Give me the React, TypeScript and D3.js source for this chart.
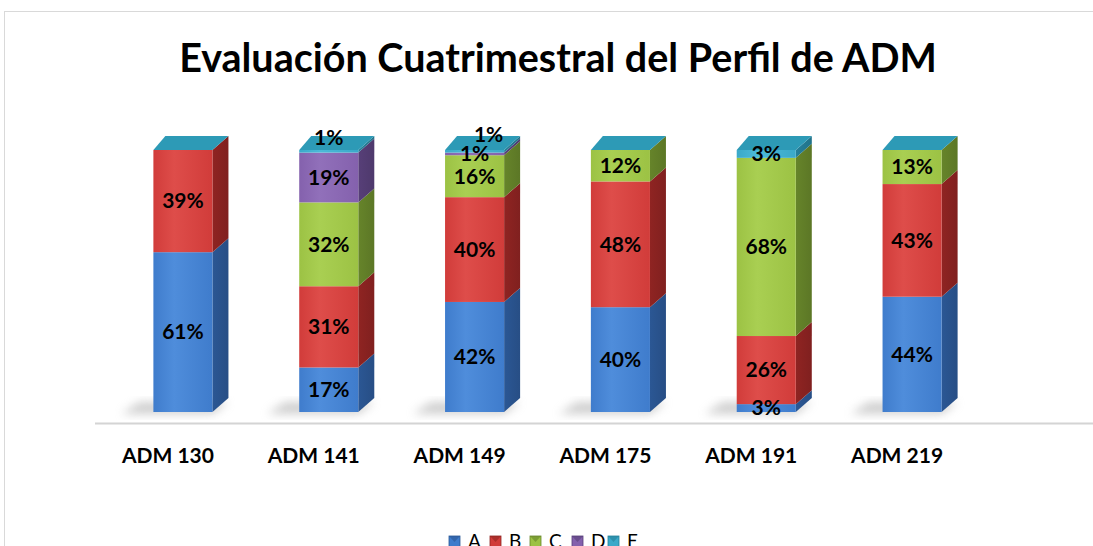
import React, { useRef, useEffect } from "react";
import * as d3 from "d3";

const categories = ["ADM 130", "ADM 141", "ADM 149", "ADM 175", "ADM 191", "ADM 219"];
const seriesNames = ["A", "B", "C", "D", "E"];
const valuesA = [61, 17, 42, 40, 3, 44];
const valuesB = [39, 31, 40, 48, 26, 43];
const valuesC = [0, 32, 16, 12, 68, 13];
const valuesD = [0, 19, 1, 0, 0, 0];
const valuesE = [0, 1, 1, 0, 3, 0];
const title = "Evaluación Cuatrimestral del Perfil de ADM";

// front, side, light
const palette = [
    { front: "#3f7ccc", side: "#2b5794", light: "#4f8ddb" },
    { front: "#d13c3a", side: "#8f2422", light: "#de4d4a" },
    { front: "#9cc244", side: "#66842a", light: "#a9cf52" },
    { front: "#8461ad", side: "#573f78", light: "#9170ba" },
    { front: "#3aa9c9", side: "#25809a", light: "#4cbad8" },
];
const topColor = "#2d9ab6";

const W = 1093;
const H = 546;

const App: React.FC = () => {
    const svgRef = useRef<SVGSVGElement | null>(null);

    useEffect(() => {
        const svg = d3.select(svgRef.current);
        svg.selectAll("*").remove();

        const rows = categories.map((c, i) => ({
            cat: c,
            A: valuesA[i],
            B: valuesB[i],
            C: valuesC[i],
            D: valuesD[i],
            E: valuesE[i],
        }));
        const stacked = d3.stack<any>().keys(seriesNames)(rows);

        const x = d3.scaleBand<string>().domain(categories).range([110, 985]);
        const y = d3.scaleLinear().domain([0, 100]).range([412, 150]);
        const barW = x.bandwidth() * 0.405;
        const dx = 16;
        const dy = 14;
        const left = (c: string) => x(c)! + x.bandwidth() / 2 - barW / 2;

        const defs = svg.append("defs");
        palette.forEach((p, i) => {
            const g = defs
                .append("linearGradient")
                .attr("id", `fr${i}`)
                .attr("x1", 0)
                .attr("x2", 1);
            g.append("stop").attr("offset", 0).attr("stop-color", p.front);
            g.append("stop").attr("offset", 0.35).attr("stop-color", p.light);
            g.append("stop").attr("offset", 1).attr("stop-color", p.front);
            const s = defs
                .append("linearGradient")
                .attr("id", `sd${i}`)
                .attr("x1", 0)
                .attr("x2", 1);
            s.append("stop").attr("offset", 0).attr("stop-color", p.side);
            s.append("stop").attr("offset", 1).attr("stop-color", d3.color(p.side)!.darker(0.3).formatHex());
        });
        defs.append("filter")
            .attr("id", "blur")
            .attr("x", "-50%")
            .attr("y", "-50%")
            .attr("width", "200%")
            .attr("height", "200%")
            .append("feGaussianBlur")
            .attr("stdDeviation", 5);

        // chart border
        svg.append("rect")
            .attr("x", 4.5)
            .attr("y", 11.5)
            .attr("width", W)
            .attr("height", H)
            .attr("fill", "white")
            .attr("stroke", "#d9d9d9");

        svg.append("text")
            .attr("x", 558)
            .attr("y", 72)
            .attr("text-anchor", "middle")
            .style("font", "bold 39.5px Lato, sans-serif")
            .attr("fill", "#000")
            .text(title);

        // floor line
        svg.append("line")
            .attr("x1", 95)
            .attr("x2", W)
            .attr("y1", 423.5)
            .attr("y2", 423.5)
            .attr("stroke", "#d4d4d4")
            .attr("stroke-width", 2);

        // shadows
        svg.append("g")
            .selectAll("path")
            .data(categories)
            .join("path")
            .attr("d", (c) => {
                const l = left(c);
                const b = y(0);
                return `M${l - 32},${b + 2} L${l + barW},${b + 2} L${l + barW + dx},${b - dy + 4} L${l - 14},${b - dy + 4} Z`;
            })
            .attr("fill", "#a0a0a0")
            .attr("opacity", 0.5)
            .attr("filter", "url(#blur)");

        const bars = svg.append("g");
        stacked.forEach((layer, si) => {
            layer.forEach((d, ci) => {
                if (d[1] - d[0] <= 0) return;
                const c = categories[ci];
                const l = left(c);
                const y0 = y(d[0]);
                const y1 = y(d[1]);
                bars.append("path")
                    .attr("d", `M${l + barW},${y0} L${l + barW + dx},${y0 - dy} L${l + barW + dx},${y1 - dy} L${l + barW},${y1} Z`)
                    .attr("fill", `url(#sd${si})`);
                bars.append("rect")
                    .attr("x", l)
                    .attr("y", y1)
                    .attr("width", barW)
                    .attr("height", y0 - y1)
                    .attr("fill", `url(#fr${si})`);
            });
        });

        // top faces
        bars.selectAll("path.top")
            .data(categories)
            .join("path")
            .attr("class", "top")
            .attr("d", (c) => {
                const l = left(c);
                const t = y(100);
                return `M${l},${t} L${l + dx - 4},${t - dy} L${l + barW + dx},${t - dy} L${l + barW},${t} Z`;
            })
            .attr("fill", topColor);

        // data labels
        const labels = svg.append("g")
            .attr("text-anchor", "middle")
            .style("font", "bold 21px Lato, sans-serif")
            .attr("fill", "#000");
        stacked.forEach((layer, si) => {
            layer.forEach((d, ci) => {
                const v = d[1] - d[0];
                if (v <= 0) return;
                const c = categories[ci];
                let cx = left(c) + barW / 2;
                let cy = y((d[0] + d[1]) / 2);
                // tiny top segment: lift it onto the top face, nudge right if the one below is tiny too
                if (si === 4 && v < 2 && d[0] > 97) {
                    cy = y(100) - 12;
                    const below = stacked[3][ci];
                    if (below[1] - below[0] > 0 && below[1] - below[0] < 2) {
                        cx += 14;
                        cy = y(100) - 15;
                    }
                }
                labels.append("text")
                    .attr("x", cx)
                    .attr("y", cy)
                    .attr("dy", "0.35em")
                    .text(`${v}%`);
            });
        });

        // category labels
        svg.append("g")
            .attr("text-anchor", "middle")
            .style("font", "bold 21px Lato, sans-serif")
            .selectAll("text")
            .data(categories)
            .join("text")
            .attr("x", (c) => x(c)! + x.bandwidth() / 2 - 15)
            .attr("y", 463)
            .text((c) => c);

        // legend
        const legendX = [449, 490, 530, 572, 608];
        const leg = svg.append("g");
        seriesNames.forEach((s, i) => {
            const g = leg.append("g").attr("transform", `translate(${legendX[i]},536)`);
            g.append("rect")
                .attr("width", 11)
                .attr("height", 11)
                .attr("fill", palette[i].front)
                .attr("stroke", palette[i].side)
                .attr("stroke-width", 0.8);
            g.append("path").attr("d", "M0,0 L5.5,6 L11,0 Z").attr("fill", palette[i].side).attr("opacity", 0.6);
            g.append("text")
                .attr("x", 19)
                .attr("y", 12)
                .style("font", "19px Lato, sans-serif")
                .attr("fill", "#000")
                .text(s);
        });
    }, []);

    return (
        <svg
            ref={svgRef}
            width={W}
            height={H}
            style={{ position: "absolute", left: 0, top: 0, display: "block" }}
        />
    );
};

export default App;
